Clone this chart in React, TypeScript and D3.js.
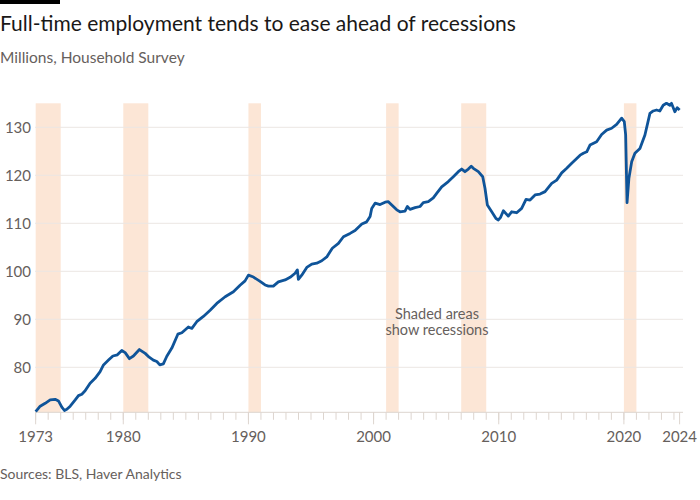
import React from "react";
import * as d3 from "d3";

const years: number[] = [
  1973.0, 1973.36, 1973.76, 1974.16, 1974.56, 1974.82, 1975.09, 1975.3, 1975.49, 1975.76,
  1976.16, 1976.42, 1976.69, 1976.95, 1977.35, 1977.75, 1978.15, 1978.42, 1978.82, 1979.17,
  1979.53, 1979.88, 1980.15, 1980.49, 1980.81, 1981.29, 1981.75, 1982.07, 1982.4, 1982.68,
  1982.92, 1983.2, 1983.48, 1983.88, 1984.36, 1984.68, 1985.2, 1985.48, 1985.87, 1986.4,
  1986.94, 1987.47, 1988.14, 1988.8, 1989.33, 1989.73, 1990.0, 1990.4, 1990.93, 1991.33,
  1991.6, 1991.99, 1992.39, 1992.93, 1993.33, 1993.73, 1993.91, 1993.99, 1994.26, 1994.66,
  1995.06, 1995.46, 1995.86, 1996.26, 1996.7, 1997.19, 1997.59, 1998.12, 1998.52, 1999.06,
  1999.45, 1999.72, 1999.85, 2000.12, 2000.52, 2000.92, 2001.18, 2001.45, 2001.85, 2002.11,
  2002.51, 2002.7, 2002.91, 2003.31, 2003.71, 2003.97, 2004.37, 2004.77, 2005.04, 2005.44,
  2005.97, 2006.37, 2006.77, 2007.04, 2007.3, 2007.57, 2007.8, 2007.97, 2008.37, 2008.72,
  2008.9, 2009.09, 2009.44, 2009.78, 2009.97, 2010.15, 2010.37, 2010.76, 2011.03, 2011.43,
  2011.83, 2012.18, 2012.5, 2012.9, 2013.3, 2013.7, 2014.23, 2014.63, 2015.03, 2015.43,
  2015.83, 2016.23, 2016.5, 2016.76, 2017.03, 2017.29, 2017.82, 2018.22, 2018.62, 2019.02,
  2019.42, 2019.82, 2020.03, 2020.14, 2020.25, 2020.4, 2020.62, 2020.88, 2021.28, 2021.68,
  2022.08, 2022.34, 2022.61, 2022.87, 2023.14, 2023.4, 2023.67, 2023.8, 2024.07, 2024.26,
  2024.45,
];

const employment: number[] = [
  70.75, 71.9, 72.5, 73.2, 73.33, 73.0, 71.7, 71.0, 71.25, 71.9,
  73.2, 74.1, 74.4, 75.1, 76.7, 77.7, 79.1, 80.5, 81.5, 82.35,
  82.6, 83.5, 83.05, 81.8, 82.35, 83.7, 82.9, 82.1, 81.5, 81.2,
  80.5, 80.7, 82.3, 84.0, 86.9, 87.2, 88.4, 88.1, 89.5, 90.6,
  91.9, 93.3, 94.7, 95.75, 97.1, 98.0, 99.2, 98.8, 97.9, 97.15,
  96.9, 96.9, 97.8, 98.2, 98.75, 99.6, 100.3, 98.3, 99.2, 100.8,
  101.5, 101.7, 102.2, 103.0, 104.8, 105.8, 107.2, 107.9, 108.5, 109.85,
  110.3, 111.4, 113.1, 114.2, 113.9, 114.4, 114.5, 113.8, 112.8, 112.4,
  112.55, 113.5, 112.9, 113.25, 113.5, 114.3, 114.5, 115.3, 116.25, 117.6,
  118.7, 119.7, 120.75, 121.3, 120.75, 121.3, 121.9, 121.45, 120.75, 119.7,
  117.3, 113.8, 112.4, 111.0, 110.7, 111.25, 112.6, 111.5, 112.4, 112.2,
  113.1, 115.0, 114.85, 115.9, 116.1, 116.6, 118.3, 119.0, 120.5, 121.45,
  122.5, 123.5, 124.2, 124.6, 124.9, 126.3, 127.0, 128.5, 129.4, 129.8,
  130.6, 131.9, 131.2, 128.4, 114.3, 119.4, 122.8, 124.6, 125.6, 128.4,
  132.9, 133.4, 133.6, 133.4, 134.6, 135.0, 134.6, 135.0, 133.25, 134.1,
  133.6,
];

const recessionStarts: number[] = [1973, 1980, 1990, 2001, 2007, 2020];
const recessionEnds: number[] = [1975, 1982, 1991, 2002, 2009, 2021];

const yTicks: number[] = [80, 90, 100, 110, 120, 130];
const xMajorTicks: number[] = [1973, 1980, 1990, 2000, 2010, 2020];
const xEndLabel = "2024";

const title = "Full-time employment tends to ease ahead of recessions";
const subtitle = "Millions, Household Survey";
const source = "Sources: BLS, Haver Analytics";
const note: string[] = ["Shaded areas", "show recessions"];

const FONT = "Lato, 'Noto Sans', sans-serif";

export default function App() {
  const W = 700;
  const H = 500;
  const xStart = 1973;
  const xEnd = 2024.45;
  const x = d3.scaleLinear().domain([xStart, xEnd]).range([35.67, 679.6]);
  const y = d3.scaleLinear().domain([70.625, 135]).range([412.3, 103.3]);

  const data = years.map((yr, i) => ({ t: yr, v: employment[i] }));
  const line = d3
    .line<{ t: number; v: number }>()
    .x((d) => x(d.t))
    .y((d) => y(d.v))
    .curve(d3.curveLinear);

  const minorTicks = d3.range(1973, 2025);
  const axisY = y(70.625);
  const gridRight = 683;

  return (
    <svg
      width={W}
      height={H}
      style={{ position: "absolute", left: 0, top: 0, background: "#fff" }}
      fontFamily={FONT}
    >
      <rect x={0} y={0} width={60} height={4} fill="#000" />
      <text x={0} y={31} fontSize={21} fill="#1a1817">
        {title}
      </text>
      <text x={0} y={63} fontSize={15.5} fill="#66605c">
        {subtitle}
      </text>

      {recessionStarts.map((s, i) => (
        <rect
          key={"r" + i}
          x={x(s)}
          y={y(135)}
          width={x(recessionEnds[i]) - x(s)}
          height={axisY - y(135)}
          fill="#fce6d6"
        />
      ))}

      {yTicks.map((t) => (
        <g key={"y" + t}>
          <line x1={35} x2={gridRight} y1={y(t)} y2={y(t)} stroke="#ece7e3" strokeWidth={1} />
          <text
            x={31}
            y={y(t)}
            dy="0.35em"
            textAnchor="end"
            fontSize={15}
            fill="#66605c"
          >
            {t}
          </text>
        </g>
      ))}

      <line x1={35} x2={gridRight} y1={axisY} y2={axisY} stroke="#ddd5cf" strokeWidth={1} />
      {minorTicks.map((t) => (
        <line
          key={"m" + t}
          x1={x(t)}
          x2={x(t)}
          y1={axisY}
          y2={axisY + 7.5}
          stroke="#ddd5cf"
          strokeWidth={1}
        />
      ))}
      {xMajorTicks.map((t) => (
        <g key={"x" + t}>
          <line x1={x(t)} x2={x(t)} y1={axisY} y2={axisY + 12} stroke="#ddd5cf" strokeWidth={1} />
          <text x={x(t)} y={442} textAnchor="middle" fontSize={15} fill="#66605c">
            {t}
          </text>
        </g>
      ))}
      <line x1={x(xEnd)} x2={x(xEnd)} y1={axisY} y2={axisY + 12} stroke="#ddd5cf" strokeWidth={1} />
      <text x={x(xEnd)} y={442} textAnchor="middle" fontSize={15} fill="#66605c">
        {xEndLabel}
      </text>

      <path d={line(data) || ""} fill="none" stroke="#0f5499" strokeWidth={2.8} strokeLinejoin="round" />

      {note.map((s, i) => (
        <text
          key={"n" + i}
          x={437}
          y={319 + i * 16}
          textAnchor="middle"
          fontSize={14.5}
          fill="#66605c"
        >
          {s}
        </text>
      ))}

      <text x={0} y={479} fontSize={14} fill="#66605c">
        {source}
      </text>
    </svg>
  );
}
